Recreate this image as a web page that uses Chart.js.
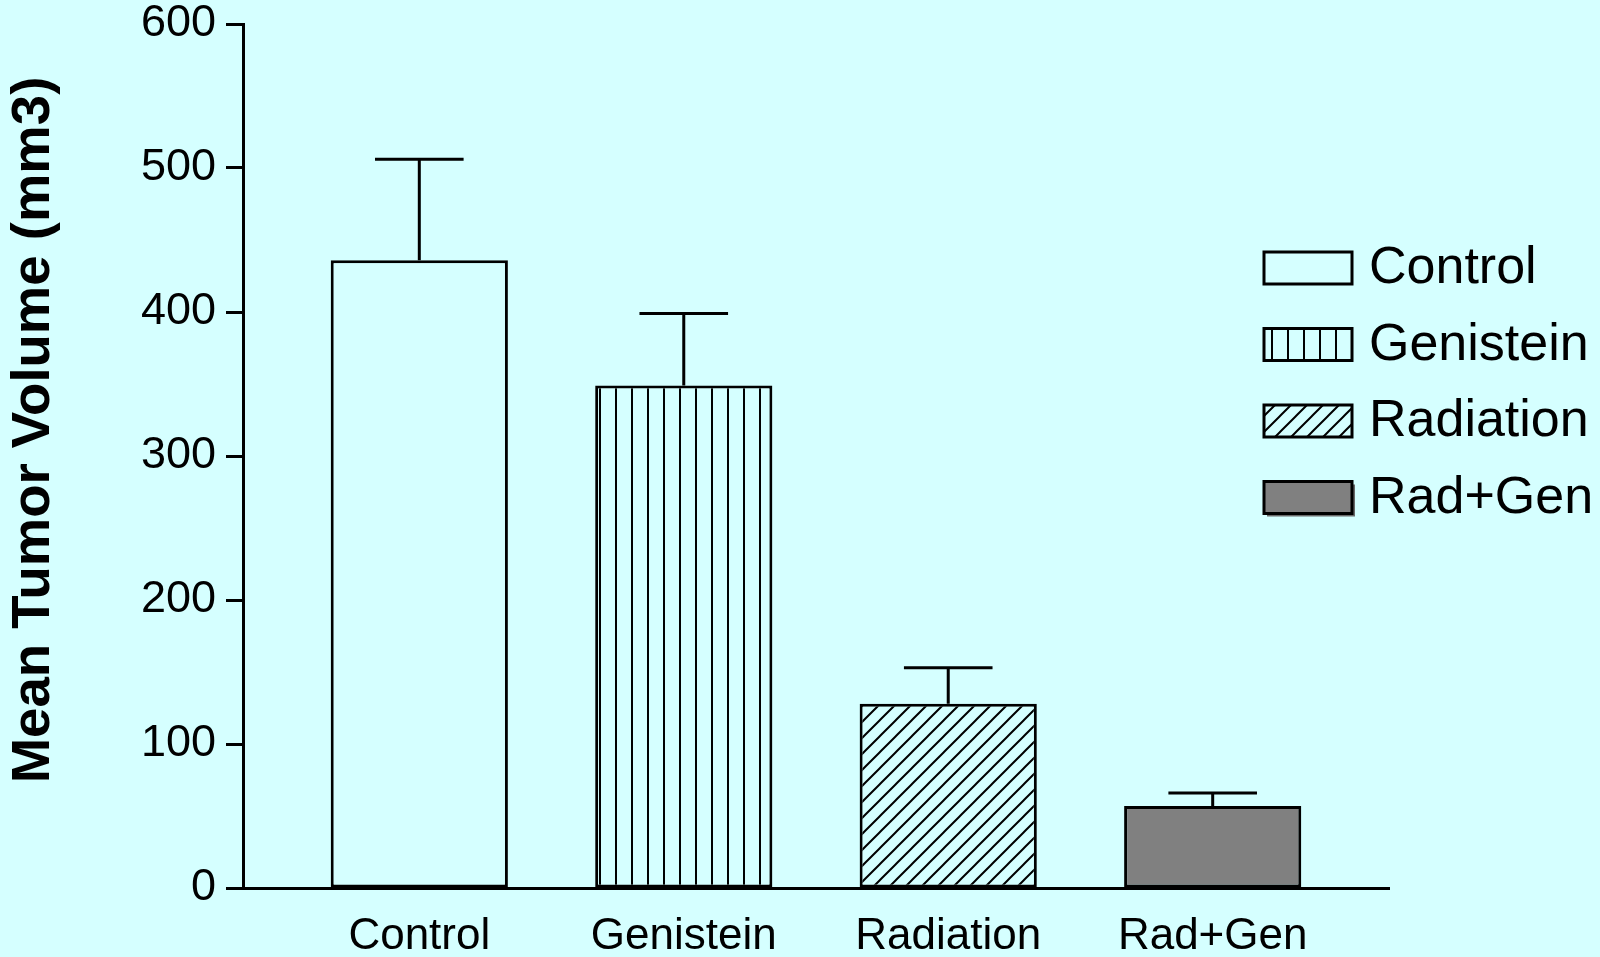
<!DOCTYPE html>
<html>
<head>
<meta charset="utf-8">
<title>Mean Tumor Volume</title>
<script src="https://cdn.jsdelivr.net/npm/chart.js@4.4.1/dist/chart.umd.min.js"></script>
<style>
  html, body { margin: 0; padding: 0; background: #D5FFFF; overflow: hidden; }
  #wrap { width: 1600px; height: 957px; position: relative; }
</style>
</head>
<body>
<div id="wrap"><canvas id="chart"></canvas></div>
<script>
// Treatment groups and tumour volumes (mean and SEM, mm3)
const categories = ['Control', 'Genistein', 'Radiation', 'Rad+Gen'];
const meanVolume = [436, 349, 128, 57];
const semVolume = [70, 50, 25, 9];
const yTickValues = [0, 100, 200, 300, 400, 500, 600];
const yAxisTitle = 'Mean Tumor Volume (mm3)';

const FONT = "'Liberation Sans', Arial, Helvetica, sans-serif";
const BG = '#D5FFFF';

const canvas = document.getElementById('chart');
const mainCtx = canvas.getContext('2d');

// Fill patterns: vertical stripes and forward-slash hatching
function makePattern(kind) {
  const s = 16;
  const tile = document.createElement('canvas');
  tile.width = s; tile.height = s;
  const g = tile.getContext('2d');
  g.fillStyle = BG;
  g.fillRect(0, 0, s, s);
  g.strokeStyle = '#000';
  g.beginPath();
  if (kind === 'vertical') {
    g.lineWidth = 2;
    g.moveTo(s / 2, 0); g.lineTo(s / 2, s);
  } else {
    g.lineWidth = 2;
    g.moveTo(-2, s + 2); g.lineTo(s + 2, -2);
    g.moveTo(-2, 2); g.lineTo(2, -2);
    g.moveTo(s - 2, s + 2); g.lineTo(s + 2, s - 2);
  }
  g.stroke();
  return mainCtx.createPattern(tile, 'repeat');
}

const fills = [BG, makePattern('vertical'), makePattern('diagonal'), '#808080'];

// Upward SEM whiskers with a cap half as wide as the bar
const errorBars = {
  id: 'errorBars',
  afterDatasetsDraw(chart) {
    const ctx = chart.ctx;
    const y = chart.scales.y;
    const meta = chart.getDatasetMeta(0);
    ctx.save();
    ctx.strokeStyle = '#000';
    ctx.lineWidth = 3;
    ctx.lineCap = 'butt';
    meta.data.forEach((bar, i) => {
      const top = y.getPixelForValue(meanVolume[i] + semVolume[i]);
      const half = bar.width / 4;
      ctx.beginPath();
      ctx.moveTo(bar.x, bar.y);
      ctx.lineTo(bar.x, top);
      ctx.moveTo(bar.x - half, top);
      ctx.lineTo(bar.x + half, top);
      ctx.stroke();
    });
    ctx.restore();
  }
};

// Rotated bold axis title on the left
const axisTitle = {
  id: 'axisTitle',
  afterDraw(chart) {
    const ctx = chart.ctx;
    ctx.save();
    ctx.translate(34, 430);
    ctx.rotate(-Math.PI / 2);
    ctx.font = 'bold 54.5px ' + FONT;
    ctx.fillStyle = '#000';
    ctx.textAlign = 'center';
    ctx.textBaseline = 'middle';
    ctx.fillText(yAxisTitle, 0, 0);
    ctx.restore();
  }
};

// Legend with framed swatches in the upper right
const boxLegend = {
  id: 'boxLegend',
  afterDraw(chart) {
    const ctx = chart.ctx;
    const x0 = 1264, y0 = 252, step = 76.5, w = 88, h = 32;
    ctx.save();
    categories.forEach((name, i) => {
      const top = y0 + i * step;
      if (i === 3) {
        ctx.fillStyle = '#6a6a6a';
        ctx.fillRect(x0 + 3, top + 3, w, h);
      }
      ctx.fillStyle = fills[i];
      ctx.fillRect(x0, top, w, h);
      ctx.strokeStyle = '#000';
      ctx.lineWidth = 3;
      ctx.strokeRect(x0, top, w, h);
      ctx.fillStyle = '#000';
      ctx.font = '52px ' + FONT;
      ctx.textAlign = 'left';
      ctx.textBaseline = 'middle';
      ctx.fillText(name, 1369, top + h / 2 + 1);
    });
    ctx.restore();
  }
};

new Chart(canvas, {
  type: 'bar',
  data: {
    datasets: [{
      data: categories.map((c, i) => ({ x: i + 1, y: meanVolume[i] })),
      backgroundColor: fills,
      borderColor: '#000',
      borderWidth: 3,
      borderSkipped: false,
      barPercentage: 0.67,
      categoryPercentage: 1
    }]
  },
  options: {
    responsive: true,
    maintainAspectRatio: false,
    animation: false,
    events: [],
    layout: { padding: { left: 0, top: 24, right: 211, bottom: 0 } },
    plugins: { legend: { display: false }, tooltip: { enabled: false } },
    scales: {
      x: {
        type: 'linear',
        offset: false,
        min: 1 / 3,
        max: 14 / 3,
        afterBuildTicks: (s) => { s.ticks = categories.map((c, i) => ({ value: i + 1 })); },
        afterFit: (s) => { s.height = 69; },
        grid: { display: false, drawTicks: false, tickLength: 0 },
        border: { display: true, color: '#000', width: 3 },
        ticks: {
          autoSkip: false,
          maxRotation: 0,
          padding: 22,
          color: '#000',
          font: { family: FONT, size: 44 },
          callback: (v) => categories[Math.round(v) - 1]
        }
      },
      y: {
        min: 0,
        max: 600,
        afterBuildTicks: (s) => { s.ticks = yTickValues.map(v => ({ value: v })); },
        afterFit: (s) => { s.width = 243; s.paddingTop = 0; s.paddingBottom = 0; },
        grid: {
          display: true,
          drawOnChartArea: false,
          drawTicks: true,
          tickLength: 17,
          tickWidth: 3,
          tickColor: '#000'
        },
        border: { display: true, color: '#000', width: 3 },
        ticks: {
          padding: 10,
          color: '#000',
          font: { family: FONT, size: 45, lineHeight: 1 }
        }
      }
    }
  },
  plugins: [errorBars, axisTitle, boxLegend]
});
</script>
</body>
</html>
